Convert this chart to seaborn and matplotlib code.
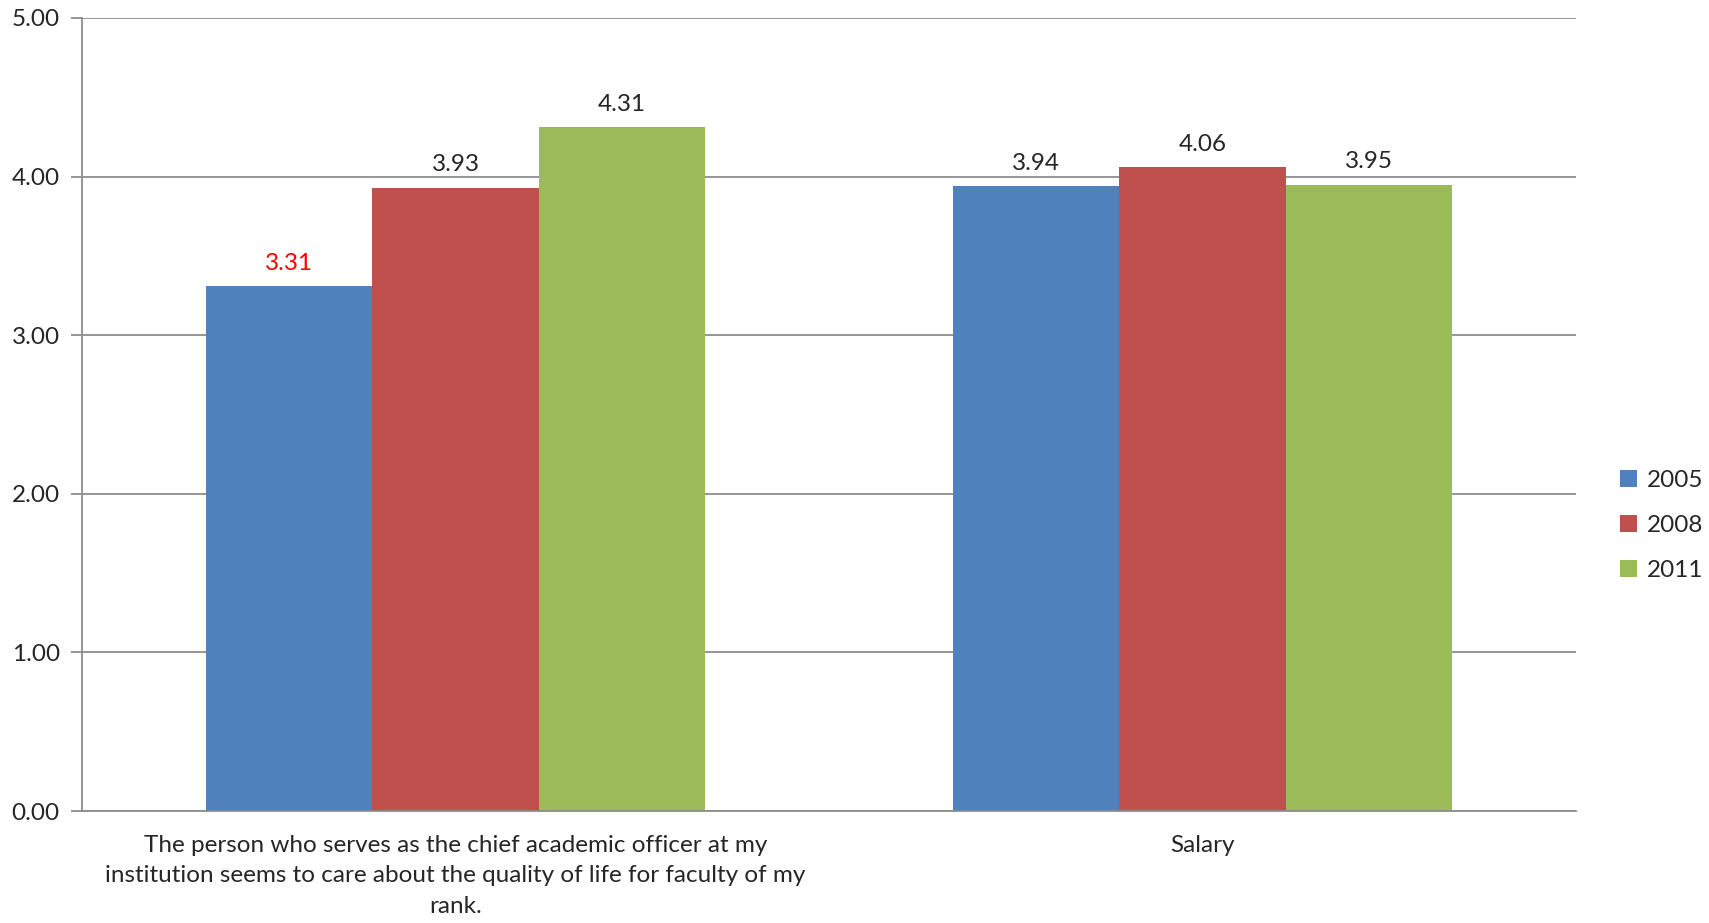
import pandas as pd
import matplotlib.pyplot as plt
import seaborn as sns

# -------------------------------
# Data
# -------------------------------
categories = [
    "The person who serves as the chief academic officer at my\n"
    "institution seems to care about the quality of life for faculty of my\n"
    "rank.",
    "Salary",
]
years = ["2005", "2008", "2011"]
scores_2005 = [3.31, 3.94]
scores_2008 = [3.93, 4.06]
scores_2011 = [4.31, 3.95]

palette = ["#4F81BD", "#C0504D", "#9BBB59"]

df = pd.DataFrame({
    "category": categories * 3,
    "year": [y for y in years for _ in categories],
    "score": scores_2005 + scores_2008 + scores_2011,
})

# -------------------------------
# Plot
# -------------------------------
sns.set_style("white")
plt.rcParams["font.family"] = ["Lato", "DejaVu Sans"]

fig = plt.figure(figsize=(17.09, 9.23), dpi=100)
ax = fig.add_axes([82 / 1709, 1 - 811 / 923, 1494 / 1709, (811 - 18) / 923])

sns.barplot(data=df, x="category", y="score", hue="year", palette=palette,
            width=0.667, saturation=1, linewidth=0, ax=ax, legend=True)

ax.set_xlim(-0.5, 1.5)
ax.set_ylim(0, 5)
ax.set_yticks([0, 1, 2, 3, 4, 5])
ax.set_yticklabels([f"{v:.2f}" for v in [0, 1, 2, 3, 4, 5]])
ax.yaxis.grid(True, color="#8c8c8c", linewidth=1.3)
ax.set_axisbelow(True)

for side in ["top", "right"]:
    ax.spines[side].set_visible(False)
for side in ["left", "bottom"]:
    ax.spines[side].set_color("#8c8c8c")
    ax.spines[side].set_linewidth(1.3)

ax.tick_params(axis="y", length=8, color="#8c8c8c", width=1.3, labelsize=17.5, pad=8, left=True)
ax.tick_params(axis="x", length=0, labelsize=17.5, pad=17)
for lbl in ax.get_xticklabels():
    lbl.set_linespacing(1.58)
ax.set_xlabel("")
ax.set_ylabel("")

for i, cont in enumerate(ax.containers):
    labels = ax.bar_label(cont, fmt="%.2f", padding=9, fontsize=17.5)
    if i == 0:
        labels[0].set_color("#FF0000")

handles, lbls = ax.get_legend_handles_labels()
ax.legend(handles, lbls, loc="center left", bbox_to_anchor=(1.015, 0.36),
          frameon=False, fontsize=17.5, handlelength=0.7, handleheight=0.7,
          handletextpad=0.4, labelspacing=1.0)

plt.savefig("out.png", dpi=100)
